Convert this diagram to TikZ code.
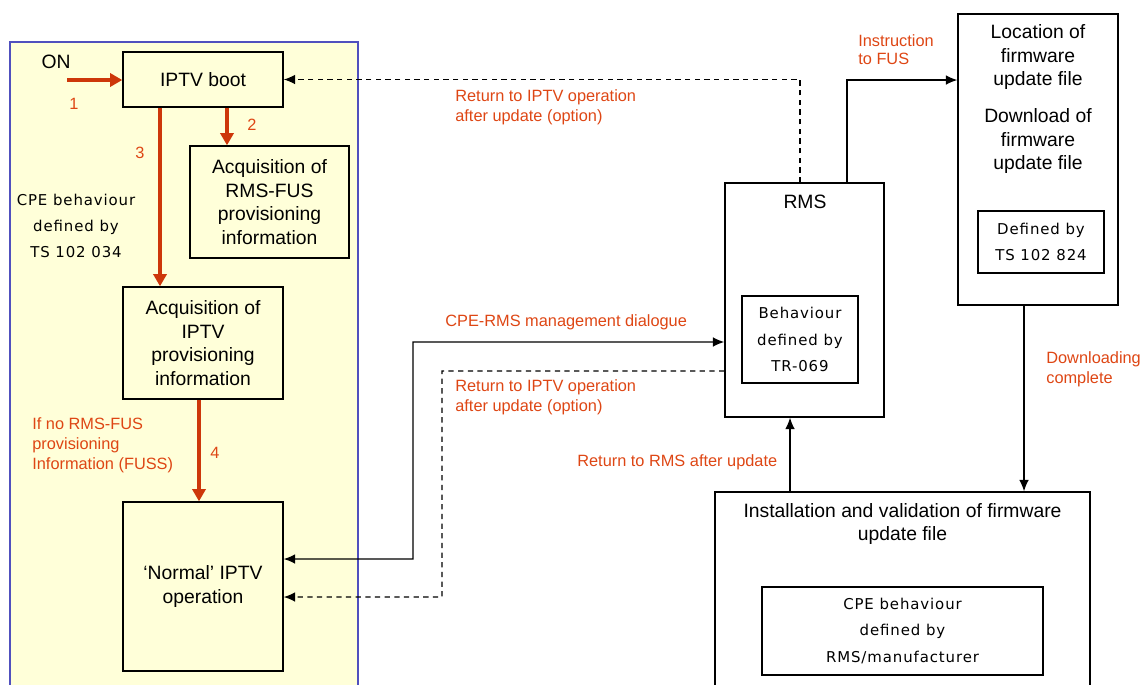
\documentclass[tikz,border=0pt]{standalone}
\usepackage{fontspec}
\setmainfont{Liberation Sans}
\newfontfamily\specfont{DejaVu Sans}[LetterSpace=6]
\usetikzlibrary{arrows.meta,positioning}
\definecolor{panelyellow}{RGB}{255,255,217}
\definecolor{panelblue}{RGB}{80,80,190}
\definecolor{labelred}{RGB}{222,70,20}
\definecolor{arrowred}{RGB}{205,55,10}
\tikzset{
	box/.style={draw,line width=0.8pt,align=center,inner sep=0pt,font=\fontsize{11}{13.4}\selectfont},
	boxtext/.style={align=center,inner sep=0pt,font=\fontsize{11}{13.4}\selectfont},
	specbox/.style={draw,line width=0.8pt,align=center,inner sep=0pt,font=\specfont\fontsize{8.5}{15}\selectfont},
	redlabel/.style={text=labelred,align=left,inner sep=0pt,font=\fontsize{9.3}{11.3}\selectfont},
	redflow/.style={draw=arrowred,line width=2.2pt,-{Triangle[length=7pt,width=7.5pt]}},
	link/.style={line width=0.75pt,-{Latex[length=6.5pt,width=5.5pt]}},
	dashlink/.style={link,dash pattern=on 3pt off 2.5pt},
}
\begin{document}
\begin{tikzpicture}[x=0.02cm,y=-0.02cm]
	\useasboundingbox (0,0) rectangle (1143,684);
	\clip (0,0) rectangle (1143,684);
	%Khung vang
	\draw[fill=panelyellow,draw=panelblue,line width=1pt] (10,42) rectangle (358,700);
	%Khung ben trai
	\node[box,minimum width=3.2cm,minimum height=1.1cm] (boot) at (203,79.5) {IPTV boot};
	\node[box,minimum width=3.18cm,minimum height=2.24cm] (rmsfus) at (269.5,202) {Acquisition of\\RMS-FUS\\provisioning\\information};
	\node[box,minimum width=3.2cm,minimum height=2.24cm] (iptvinfo) at (203,343) {Acquisition of\\IPTV\\provisioning\\information};
	\node[box,minimum width=3.2cm,minimum height=3.38cm] (normal) at (203,586.5) {‘Normal’ IPTV\\operation};
	\node[boxtext] (on) at (56,62) {ON};
	\coordinate (onstart) at (67,80);
	\node[specbox,draw=none,font=\specfont\fontsize{8.5}{14.7}\selectfont] (cpespec) at (76,226) {CPE behaviour\\defined by\\TS 102 034};
	%Mui ten do
	\draw[redflow] (onstart) -- (onstart -| boot.west);
	\draw[redflow] ([xshift=0.48cm]boot.south) -- ([xshift=0.48cm]boot.south |- rmsfus.north);
	\draw[redflow] ([xshift=-0.86cm]boot.south) -- ([xshift=-0.86cm]boot.south |- iptvinfo.north);
	\draw[redflow] ([xshift=-0.08cm]iptvinfo.south) -- ([xshift=-0.08cm]iptvinfo.south |- normal.north);
	\node[redlabel] (n1) at (74,104) {1};
	\node[redlabel] (n2) at (252,125) {2};
	\node[redlabel] (n3) at (140,153) {3};
	\node[redlabel] (n4) at (215,453) {4};
	\node[redlabel,anchor=west] (nofus) at (32,445) {If no RMS-FUS\\provisioning\\Information (FUSS)};
	%Khung RMS
	\node[box,minimum width=3.18cm,minimum height=4.68cm] (rms) at (804.5,300) {};
	\node[boxtext] (rmstitle) at (805,202) {RMS};
	\node[specbox,minimum width=2.32cm,minimum height=1.74cm] (tr069) at (800,339.5) {Behaviour\\defined by\\TR-069};
	%Khung FUS
	\node[box,minimum width=3.2cm,minimum height=5.82cm] (fus) at (1038,159.5) {};
	\node[boxtext] (location) at (1038,57) {Location of\\firmware\\update file};
	\node[boxtext] (download) at (1038,141) {Download of\\firmware\\update file};
	\node[specbox,minimum width=2.52cm,minimum height=1.24cm] (ts824) at (1041,242) {Defined by\\TS 102 824};
	%Khung cai dat
	\node[box,minimum width=7.5cm,minimum height=4.16cm] (install) at (902.5,596) {};
	\node[boxtext] (installtitle) at (902.5,524) {Installation and validation of firmware\\update file};
	\node[specbox,minimum width=5.62cm,minimum height=1.76cm,font=\specfont\fontsize{8.5}{15.2}\selectfont] (rmsmanuf) at (902.5,631) {CPE behaviour\\defined by\\RMS/manufacturer};
	%Mui ten den
	\coordinate (dlgcorner) at (413,342);
	\coordinate (retcorner) at (442,597);
	\draw[dashlink] ([xshift=-0.09cm]rms.north) |- (boot.east);
	\draw[link] ([xshift=0.85cm]rms.north) |- ([yshift=1.59cm]fus.west);
	\draw[link,{Latex[length=6.5pt,width=5.5pt]}-{Latex[length=6.5pt,width=5.5pt]}] ([yshift=0.55cm]normal.east) -| (dlgcorner) -- ([yshift=-0.84cm]rms.west);
	\draw[dashlink] ([yshift=-1.42cm]rms.west) -| (retcorner) -- ([yshift=-0.21cm]normal.east);
	\draw[link] ([xshift=-0.28cm]fus.south) -- ([xshift=-0.28cm]fus.south |- install.north);
	\draw[link] ([xshift=-2.25cm]install.north) -- ([xshift=-2.25cm]install.north |- rms.south);
	%Nhan
	\node[redlabel,anchor=west] (ret1) at (455,107) {Return to IPTV operation\\after update (option)};
	\node[redlabel,anchor=west] (dialogue) at (445,322) {CPE-RMS management dialogue};
	\node[redlabel,anchor=west] (ret2) at (455,397) {Return to IPTV operation\\after update (option)};
	\node[redlabel,anchor=west] (retrms) at (577,462) {Return to RMS after update};
	\node[redlabel,anchor=west,font=\fontsize{9.3}{10.3}\selectfont] (instr) at (858,50) {Instruction\\to FUS};
	\node[redlabel,anchor=west] (dlc) at (1046,369) {Downloading\\complete};
\end{tikzpicture}
\end{document}
